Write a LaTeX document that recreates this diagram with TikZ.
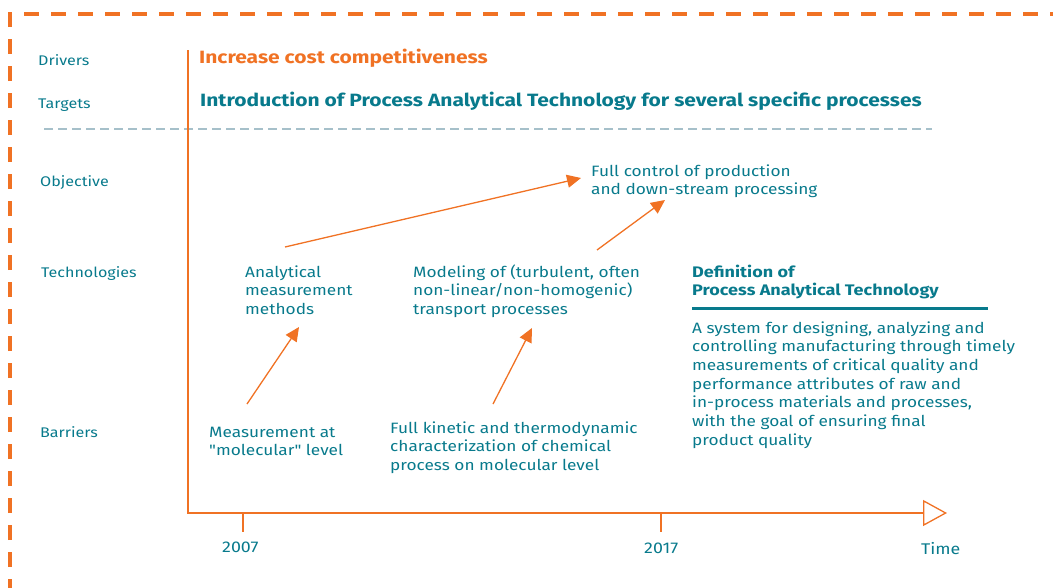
\documentclass[tikz,border=0pt]{standalone}
\usepackage{fontspec}
\setmainfont{Fira Sans}[FakeStretch=1.15,Ligatures=TeXOff,BoldFeatures={FakeStretch=1.18}]
\usetikzlibrary{arrows.meta}
\definecolor{patora}{RGB}{240,114,36}
\definecolor{pattea}{RGB}{8,122,140}
\definecolor{patgry}{RGB}{166,192,202}
\tikzset{
    rowtea/.style={anchor=base west,inner sep=0,text=pattea,font=\fontsize{14}{17}\selectfont},
    txttea/.style={anchor=base west,inner sep=0,align=left,text=pattea,font=\fontsize{15}{18.7}\selectfont},
    bldtea/.style={anchor=base west,inner sep=0,align=left,text=pattea,font=\fontsize{15.3}{18.7}\selectfont\bfseries},
    hdrora/.style={anchor=base west,inner sep=0,text=patora,font=\fontsize{17.8}{22}\selectfont\bfseries},
    hdrtea/.style={anchor=base west,inner sep=0,text=pattea,font=\fontsize{17.8}{22}\selectfont\bfseries},
    yrtea/.style={anchor=base west,inner sep=0,text=pattea,font=\fontsize{15.5}{18}\selectfont},
    arrora/.style={draw=patora,line width=1.3pt,-{Triangle[length=14pt,width=13pt]}}
}

\begin{document}
\begin{tikzpicture}[x=1pt,y=-1pt]
        \useasboundingbox (0,0) rectangle (1053,587);
        %---
        \draw[patora,line width=4.5pt,dash pattern=on 15pt off 12pt,dash phase=4pt] (10,590) -- (10,14) -- (1056,14);
        \draw[patgry,line width=2.5pt,dash pattern=on 9pt off 5pt] (44,129) -- (932,129);
        \draw[patora,line width=1.3pt] (188,50) -- (188,513) -- (922,513);
        \draw[patora,line width=1.3pt,-{Triangle[open,length=24pt,width=26pt]}] (900,513) -- (947,513);
        \foreach \x in {243,661} {
            \draw[patora,line width=1.3pt] (\x,513) -- (\x,532);
        }

        %---
        \node[rowtea] (l-drv) at (38,65) {Drivers};
        \node[rowtea] (l-trg) at (38,108) {Targets};
        \node[rowtea] (l-obj) at (40,186) {Objective};
        \node[rowtea] (l-tec) at (41,277) {Technologies};
        \node[rowtea] (l-bar) at (40,437) {Barriers};

        \node[hdrora] (drv) at (199,63) {Increase cost competitiveness};
        \node[hdrtea] (trg) at (200,106) {Introduction of Process Analytical Technology for several specific processes};

        % base = baseline of the last line
        \node[txttea] (obj-ctl) at (591,194.7) {Full control of production\\and down-stream processing};
        \node[txttea] (tec-anl) at (245,314.4) {Analytical\\measurement\\methods};
        \node[txttea] (tec-mod) at (413,314.4) {Modeling of (turbulent, often\\non-linear/non-homogenic)\\transport processes};
        \node[bldtea] (def-hd) at (692,295.7) {Definition of\\Process Analytical Technology};
        \draw[pattea,line width=3pt] (692,308) -- (988,308);
        \node[txttea] (def-tx) at (692,445.2) {A system for designing, analyzing and\\controlling manufacturing through timely\\measurements of critical quality and\\performance attributes of raw and\\in-process materials and processes,\\with the goal of ensuring final\\product quality};
        \node[txttea] (bar-mea) at (209,455.7) {Measurement at\\"molecular" level};
        \node[txttea] (bar-kin) at (390,470.4) {Full kinetic and thermodynamic\\characterization of chemical\\process on molecular level};

        \node[yrtea] (y-07) at (222,552) {2007};
        \node[yrtea] (y-17) at (644,553) {2017};
        \node[yrtea] (t-ime) at (921,554) {Time};

        \begin{scope}[every path/.style={arrora}]
            \draw ([shift={(40,-67.4)}]tec-anl.base west) -- ([shift={(-10,-16.7)}]obj-ctl.base west);
            \draw ([shift={(184,-64.4)}]tec-mod.base west) -- ([shift={(74,5.3)}]obj-ctl.base west);
            \draw ([shift={(38,-51.7)}]bar-mea.base west) -- ([shift={(54,12.6)}]tec-anl.base west);
            \draw ([shift={(103,-66.4)}]bar-kin.base west) -- ([shift={(119,13.6)}]tec-mod.base west);
        \end{scope}
    \end{tikzpicture}
\end{document}
